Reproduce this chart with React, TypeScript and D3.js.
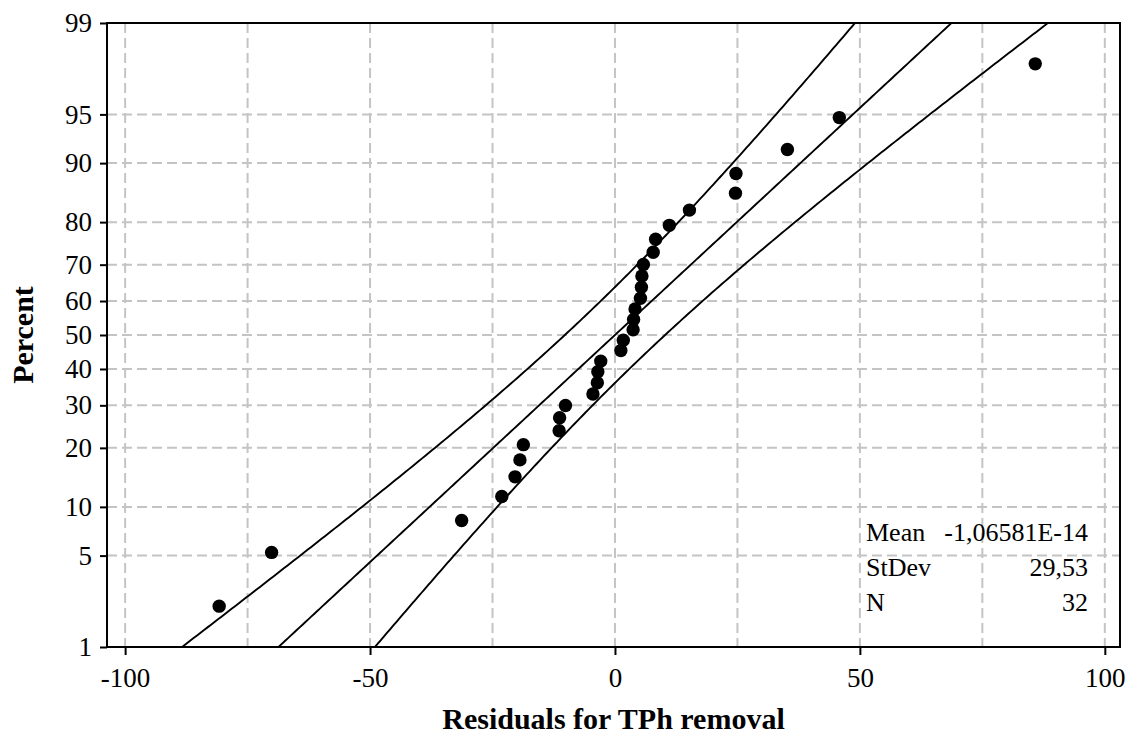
import { useEffect, useRef } from "react";
import * as d3 from "d3";

// residuals (sorted)
const residuals = [
  -80.8, -70.1, -31.3, -23.1, -20.4, -19.4, -18.7, -11.4, -11.3, -10.1, -4.5,
  -3.6, -3.5, -2.9, 1.2, 1.7, 3.7, 3.8, 4.1, 5.2, 5.4, 5.5, 5.8, 7.8, 8.3,
  11.1, 15.2, 24.6, 24.7, 35.2, 45.8, 85.8,
];
// plotted percent of each point
const percents = [
  2.16, 5.25, 8.33, 11.42, 14.51, 17.59, 20.68, 23.77, 26.85, 29.94, 33.02,
  36.11, 39.2, 42.28, 45.37, 48.46, 51.54, 54.63, 57.72, 60.8, 63.89, 66.98,
  70.06, 73.15, 76.23, 79.32, 82.41, 85.49, 88.58, 91.67, 94.75, 97.84,
];

const percentTicks = [1, 5, 10, 20, 30, 40, 50, 60, 70, 80, 90, 95, 99];
const percentGrid = [5, 10, 20, 30, 40, 50, 60, 70, 80, 90, 95];
const xTicks = [-100, -50, 0, 50, 100];
const xGrid = [-100, -75, -50, -25, 0, 25, 50, 75, 100];

const statLabels = ["Mean", "StDev", "N"];
const statText = ["-1,06581E-14", "29,53", "32"];
const statValues = [-1.06581e-14, 29.53, 32];

// inverse normal cdf (Acklam)
function qnorm(p: number) {
  const a = [-39.69683028665376, 220.9460984245205, -275.9285104469687, 138.357751867269, -30.66479806614716, 2.506628277459239];
  const b = [-54.47609879822406, 161.5858368580409, -155.6989798598866, 66.80131188771972, -13.28068155288572];
  const c = [-0.007784894002430293, -0.3223964580411365, -2.400758277161838, -2.549732539343734, 4.374664141464968, 2.938163982698783];
  const d = [0.007784695709041462, 0.3224671290700398, 2.445134137142996, 3.754408661907416];
  const plow = 0.02425;
  if (p < plow) {
    const q = Math.sqrt(-2 * Math.log(p));
    return (((((c[0] * q + c[1]) * q + c[2]) * q + c[3]) * q + c[4]) * q + c[5]) /
      ((((d[0] * q + d[1]) * q + d[2]) * q + d[3]) * q + 1);
  }
  if (p > 1 - plow) {
    const q = Math.sqrt(-2 * Math.log(1 - p));
    return -(((((c[0] * q + c[1]) * q + c[2]) * q + c[3]) * q + c[4]) * q + c[5]) /
      ((((d[0] * q + d[1]) * q + d[2]) * q + d[3]) * q + 1);
  }
  const q = p - 0.5;
  const r = q * q;
  return ((((((a[0] * r + a[1]) * r + a[2]) * r + a[3]) * r + a[4]) * r + a[5]) * q) /
    (((((b[0] * r + b[1]) * r + b[2]) * r + b[3]) * r + b[4]) * r + 1);
}

export default function App() {
  const ref = useRef<SVGSVGElement>(null);

  useEffect(() => {
    const width = 1132;
    const height = 740;
    const left = 107, right = 1120, top = 23, bottom = 647;
    const font = "'Liberation Serif', 'Times New Roman', serif";

    const svg = d3.select(ref.current);
    svg.selectAll("*").remove();
    svg.attr("width", width).attr("height", height).attr("viewBox", [0, 0, width, height]);

    const x = d3.scaleLinear().domain([-103.7, 103.1]).range([left, right]);
    const y = d3.scaleLinear().domain([qnorm(0.01), qnorm(0.99)]).range([bottom, top]);
    const yp = (p: number) => y(qnorm(p / 100));

    svg.append("defs").append("clipPath").attr("id", "plot-clip")
      .append("rect")
      .attr("x", left).attr("y", top)
      .attr("width", right - left).attr("height", bottom - top);

    // grid
    const grid = svg.append("g")
      .attr("stroke", "#c4c4c4")
      .attr("stroke-width", 2)
      .attr("stroke-dasharray", "10,5");
    grid.selectAll("line.v").data(xGrid).join("line")
      .attr("x1", d => x(d)).attr("x2", d => x(d))
      .attr("y1", top).attr("y2", bottom);
    grid.selectAll("line.h").data(percentGrid).join("line")
      .attr("x1", left).attr("x2", right)
      .attr("y1", d => yp(d)).attr("y2", d => yp(d));

    // fitted line and 95% confidence bands
    const [mean, sd, n] = statValues;
    const zs = d3.range(-2.8, 2.81, 0.02);
    const fits = [
      zs.map(z => ({ z, v: mean + sd * z - 1.96 * sd * Math.sqrt((1 + z * z / 2) / n) })),
      zs.map(z => ({ z, v: mean + sd * z })),
      zs.map(z => ({ z, v: mean + sd * z + 1.96 * sd * Math.sqrt((1 + z * z / 2) / n) })),
    ];
    const line = d3.line<{ z: number; v: number }>()
      .x(d => x(d.v))
      .y(d => y(d.z));
    svg.append("g")
      .attr("clip-path", "url(#plot-clip)")
      .selectAll("path")
      .data(fits)
      .join("path")
      .attr("fill", "none")
      .attr("stroke", "#000")
      .attr("stroke-width", 1.9)
      .attr("d", d => line(d));

    // points
    svg.append("g")
      .selectAll("circle")
      .data(residuals)
      .join("circle")
      .attr("cx", d => x(d))
      .attr("cy", (d, i) => yp(percents[i]))
      .attr("r", 6.7)
      .attr("fill", "#000");

    // frame
    svg.append("rect")
      .attr("x", left).attr("y", top)
      .attr("width", right - left).attr("height", bottom - top)
      .attr("fill", "none")
      .attr("stroke", "#000")
      .attr("stroke-width", 2);

    // axes
    const yAxis = svg.append("g")
      .attr("transform", `translate(${left},0)`)
      .call(d3.axisLeft(y)
        .tickValues(percentTicks.map(p => qnorm(p / 100)))
        .tickFormat((d, i) => String(percentTicks[i]))
        .tickSize(7)
        .tickPadding(8)
        .tickSizeOuter(0));
    yAxis.select(".domain").remove();
    yAxis.selectAll("line").attr("stroke", "#000").attr("stroke-width", 2);
    yAxis.selectAll("text")
      .attr("font-family", font)
      .attr("font-size", 27)
      .attr("fill", "#000");

    const xAxis = svg.append("g")
      .attr("transform", `translate(0,${bottom})`)
      .call(d3.axisBottom(x)
        .tickValues(xTicks)
        .tickFormat(d => String(d))
        .tickSize(8)
        .tickPadding(13)
        .tickSizeOuter(0));
    xAxis.select(".domain").remove();
    xAxis.selectAll("line").attr("stroke", "#000").attr("stroke-width", 2);
    xAxis.selectAll("text")
      .attr("font-family", font)
      .attr("font-size", 27)
      .attr("fill", "#000");

    // axis titles
    svg.append("text")
      .attr("x", (left + right) / 2)
      .attr("y", 729)
      .attr("text-anchor", "middle")
      .attr("font-family", font)
      .attr("font-weight", "bold")
      .attr("font-size", 30)
      .text("Residuals for TPh removal");

    svg.append("text")
      .attr("transform", `translate(33,${(top + bottom) / 2}) rotate(-90)`)
      .attr("text-anchor", "middle")
      .attr("font-family", font)
      .attr("font-weight", "bold")
      .attr("font-size", 30)
      .text("Percent");

    // stats box
    const stats = svg.append("g")
      .attr("font-family", font)
      .attr("font-size", 26)
      .attr("fill", "#000");
    stats.selectAll("text.lab").data(statLabels).join("text")
      .attr("x", 866)
      .attr("y", (d, i) => 541 + i * 35)
      .text(d => d);
    stats.selectAll("text.val").data(statText).join("text")
      .attr("x", 1088)
      .attr("y", (d, i) => 541 + i * 35)
      .attr("text-anchor", "end")
      .text(d => d);
  }, []);

  return (
    <svg
      ref={ref}
      style={{ position: "absolute", left: 0, top: 0, background: "#fff" }}
    ></svg>
  );
}
